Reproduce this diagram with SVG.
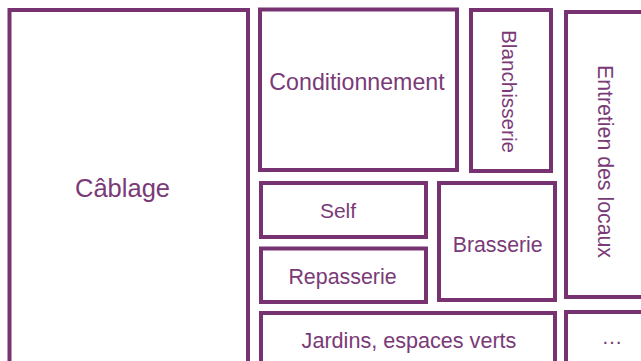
<svg xmlns="http://www.w3.org/2000/svg" width="641" height="361" viewBox="0 0 641 361">
<style>
.box{fill:#ffffff;stroke:#773272;stroke-width:4}
.lbl{font-family:"Liberation Sans",Arial,sans-serif;fill:#7a3a77;text-anchor:middle}
</style>
<rect x="0" y="0" width="641" height="361" fill="#ffffff"/>
<g id="cablage"><rect class="box" x="9.5" y="10" width="238.5" height="370"/><text class="lbl" x="122.5" y="197" font-size="25.5">Câblage</text></g>
<g id="conditionnement"><rect class="box" x="260" y="9.5" width="197" height="160.5"/><text class="lbl" x="357" y="90" font-size="23.2">Conditionnement</text></g>
<g id="blanchisserie"><rect class="box" x="471" y="10" width="80" height="161"/><text class="lbl" transform="translate(502,91.5) rotate(90)" font-size="20.7">Blanchisserie</text></g>
<g id="entretien"><rect class="box" x="566" y="12" width="100" height="285"/><text class="lbl" transform="translate(598,161.5) rotate(90)" font-size="21.3">Entretien des locaux</text></g>
<g id="self"><rect class="box" x="261" y="183" width="165" height="54"/><text class="lbl" x="338" y="217.7" font-size="21">Self</text></g>
<g id="repasserie"><rect class="box" x="261" y="248.5" width="165" height="53.5"/><text class="lbl" x="342.5" y="284.3" font-size="21.4">Repasserie</text></g>
<g id="brasserie"><rect class="box" x="439" y="183" width="116" height="117"/><text class="lbl" x="497.7" y="251.7" font-size="21.3">Brasserie</text></g>
<g id="jardins"><rect class="box" x="261" y="313" width="294" height="60"/><text class="lbl" x="409" y="348.3" font-size="21.6">Jardins, espaces verts</text></g>
<g id="autres"><rect class="box" x="566" y="312" width="100" height="60"/><text class="lbl" x="612" y="344" font-size="21">…</text></g>
<g id="connectors"></g>
</svg>
